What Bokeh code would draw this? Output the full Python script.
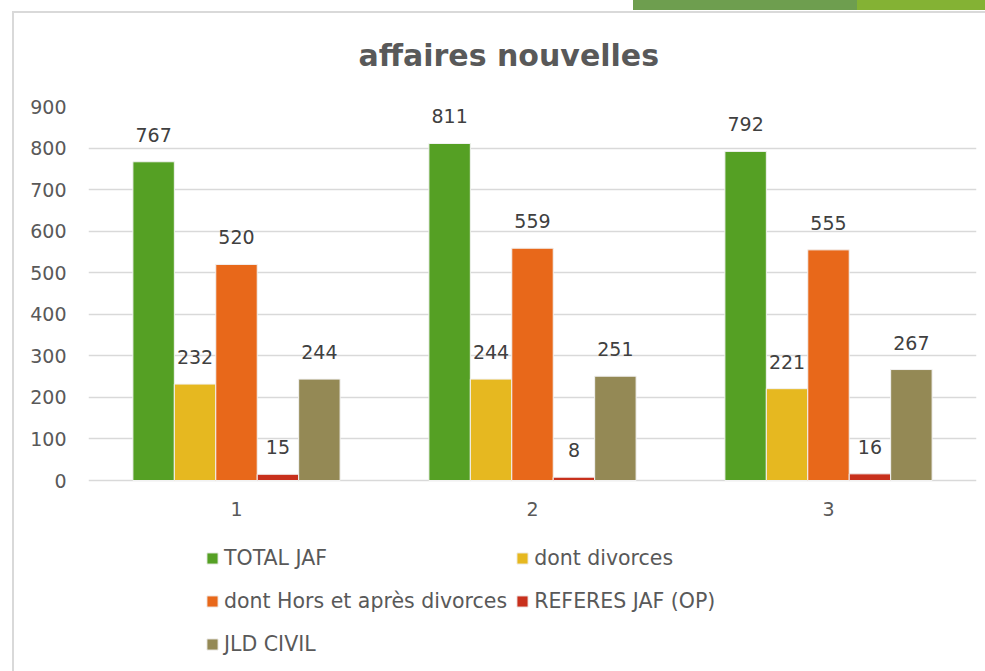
from bokeh.plotting import figure
from bokeh.models import (FactorRange, Range1d, ColumnDataSource, Legend, LegendItem,
                          FixedTicker, LabelSet)
from bokeh.core.properties import value
from bokeh.transform import dodge
from bokeh.embed import file_html
from bokeh.resources import INLINE

categories = ["1", "2", "3"]
series_names = ["TOTAL JAF", "dont divorces", "dont Hors et après divorces",
                "REFERES JAF (OP)", "JLD CIVIL"]
total_jaf = [767, 811, 792]
dont_divorces = [232, 244, 221]
dont_hors = [520, 559, 555]
referes = [15, 8, 16]
jld_civil = [244, 251, 267]
y_ticks = [0, 100, 200, 300, 400, 500, 600, 700, 800, 900]
title_text = "affaires nouvelles"

series_values = [total_jaf, dont_divorces, dont_hors, referes, jld_civil]
colors = ["#55A024", "#E6B820", "#E8681A", "#C8301C", "#948955"]

FONT = "DejaVu Sans"

# frame: top 106 (900), zero line at 480, bottom at 665
y_bottom = -(665 - 480) / (374 / 900)

p = figure(width=985, height=671, x_range=FactorRange(*categories, range_padding=0),
           y_range=Range1d(y_bottom, 900), output_backend="svg", toolbar_location=None,
           min_border_left=88, min_border_right=9, min_border_top=106,
           min_border_bottom=6)
p.outline_line_color = None
p.background_fill_color = "white"
p.border_fill_color = "white"
p.border_fill_alpha = 0
p.styles = {
    "background-color": "white",
    "background-image": ("linear-gradient(#d9d9d9, #d9d9d9), "
                         "linear-gradient(#d9d9d9, #d9d9d9), "
                         "linear-gradient(#6E9E4F, #6E9E4F), "
                         "linear-gradient(#84B234, #84B234)"),
    "background-size": "2px 100%, 100% 2px, 224px 10px, 128px 10px",
    "background-position": "12px 11px, 12px 11px, 633px 0px, 857px 0px",
    "background-repeat": "no-repeat",
}

p.title.text = title_text
p.title.align = "left"
p.title.offset = 270
p.title.text_font = FONT
p.title.text_font_size = "30px"
p.title.text_font_style = "bold"
p.title.text_color = "#595959"
p.title.standoff = 68

n = len(series_names)
bar_w = 0.14
renderers = []
for i, (name, vals, col) in enumerate(zip(series_names, series_values, colors)):
    src = ColumnDataSource(dict(cat=categories, val=vals, lab=[str(v) for v in vals]))
    off = (i - (n - 1) / 2) * bar_w
    r = p.vbar(x=dodge("cat", off, range=p.x_range), top="val", width=bar_w,
               source=src, fill_color=col, line_color="#f2f2f2", line_width=1)
    renderers.append((name, r))
    labels = LabelSet(x=dodge("cat", off, range=p.x_range), y="val", text="lab",
                      source=src, text_align="center", text_baseline="bottom",
                      y_offset=20, text_font=value(FONT), text_font_size=value("19px"),
                      text_color=value("#404040"))
    p.add_layout(labels)

# category labels under the zero line
cat_src = ColumnDataSource(dict(cat=categories, zero=[0] * len(categories)))
p.add_layout(LabelSet(x="cat", y="zero", text="cat", source=cat_src,
                      text_align="center", text_baseline="middle", y_offset=-28,
                      text_font=value(FONT), text_font_size=value("19px"),
                      text_color=value("#595959")))

p.xaxis.visible = False
p.yaxis.ticker = FixedTicker(ticks=y_ticks)
p.yaxis.axis_line_color = None
p.yaxis.major_tick_line_color = None
p.yaxis.minor_tick_line_color = None
p.yaxis.major_label_text_font = FONT
p.yaxis.major_label_text_font_size = "19px"
p.yaxis.major_label_text_color = "#595959"
p.yaxis.major_label_standoff = 16

p.xgrid.grid_line_color = None
p.ygrid.ticker = FixedTicker(ticks=y_ticks)
p.ygrid.grid_line_color = "#d9d9d9"
p.ygrid.grid_line_width = 1.5

legend = Legend(items=[LegendItem(label=nm, renderers=[r]) for nm, r in renderers],
                ncols=2, orientation="horizontal", location=(117, 4))
legend.border_line_color = None
legend.background_fill_alpha = 0
legend.label_text_font = FONT
legend.label_text_font_size = "20.5px"
legend.label_text_color = "#595959"
legend.glyph_width = 14
legend.glyph_height = 14
legend.label_standoff = 5
legend.label_height = 35
legend.spacing = 8
legend.padding = 0
legend.margin = 0
p.add_layout(legend, "center")

open("out.html", "w").write(file_html(p, INLINE))
